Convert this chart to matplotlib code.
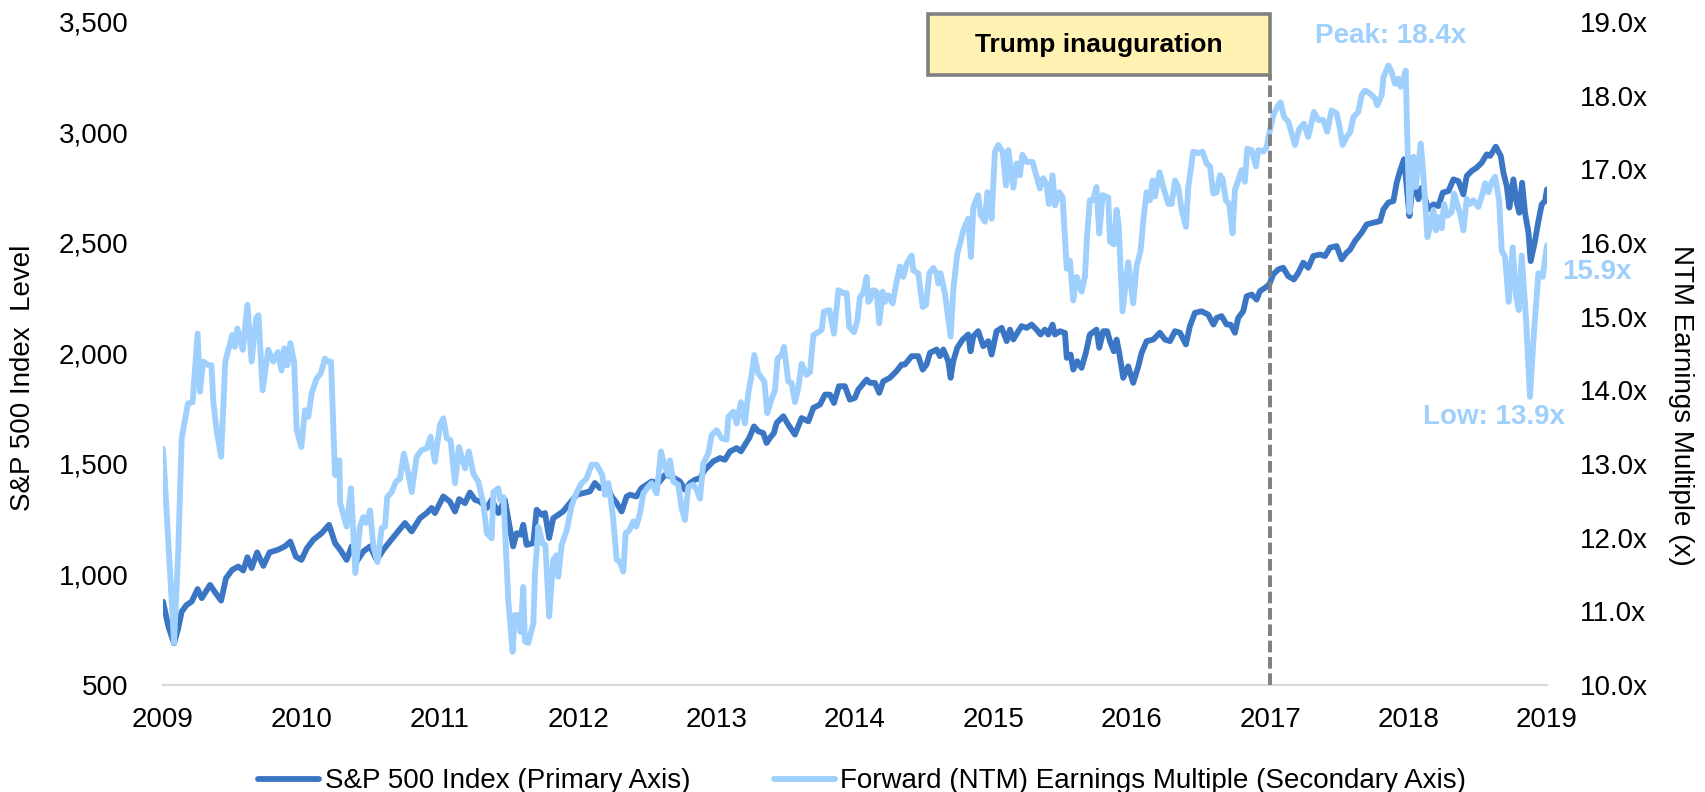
import matplotlib
matplotlib.use('Agg')
import matplotlib.pyplot as plt
import matplotlib.transforms as mtransforms
from matplotlib.patches import Rectangle
from matplotlib.ticker import FuncFormatter

# ---- data (x = position on the 2009..2019 axis) ----
sp_t = [
    2009.0, 2009.039, 2009.08, 2009.11, 2009.135, 2009.17, 2009.207, 2009.25, 2009.28, 2009.34, 2009.38, 2009.42, 2009.455, 2009.50, 2009.544, 2009.58, 2009.61, 2009.64, 2009.68, 2009.725, 2009.77, 2009.83, 2009.88, 2009.92, 2009.96,
    2010.0, 2010.04, 2010.086, 2010.146, 2010.20, 2010.243, 2010.28, 2010.327, 2010.363, 2010.40, 2010.447, 2010.496, 2010.544, 2010.592, 2010.64, 2010.688, 2010.748, 2010.797, 2010.857, 2010.905, 2010.941, 2010.965,
    2011.025, 2011.073, 2011.11, 2011.14, 2011.182, 2011.218, 2011.254, 2011.29, 2011.34, 2011.375, 2011.423, 2011.47, 2011.53, 2011.555, 2011.584, 2011.603, 2011.627, 2011.675, 2011.70, 2011.736, 2011.76, 2011.79, 2011.82, 2011.856, 2011.89, 2011.94, 2011.99,
    2012.04, 2012.085, 2012.12, 2012.157, 2012.206, 2012.242, 2012.278, 2012.314, 2012.35, 2012.374, 2012.42, 2012.458, 2012.53, 2012.58, 2012.627, 2012.675, 2012.735, 2012.771, 2012.808, 2012.844, 2012.88, 2012.916, 2012.976,
    2013.024, 2013.06, 2013.097, 2013.145, 2013.176, 2013.205, 2013.236, 2013.27, 2013.301, 2013.337, 2013.361, 2013.385, 2013.414, 2013.434, 2013.482, 2013.518, 2013.566, 2013.614, 2013.663, 2013.699, 2013.747, 2013.783, 2013.819, 2013.848, 2013.884, 2013.927, 2013.963, 2013.999,
    2014.024, 2014.084, 2014.108, 2014.144, 2014.175, 2014.204, 2014.252, 2014.3, 2014.337, 2014.36, 2014.409, 2014.457, 2014.489, 2014.517, 2014.542, 2014.59, 2014.614, 2014.638, 2014.674, 2014.691, 2014.71, 2014.739, 2014.778, 2014.818, 2014.835, 2014.855, 2014.89, 2014.927, 2014.963, 2014.987,
    2015.023, 2015.06, 2015.096, 2015.12, 2015.144, 2015.18, 2015.204, 2015.24, 2015.276, 2015.312, 2015.341, 2015.372, 2015.397, 2015.427, 2015.445, 2015.48, 2015.517, 2015.53, 2015.558, 2015.577, 2015.606, 2015.637, 2015.668, 2015.697, 2015.745, 2015.765, 2015.794, 2015.822, 2015.842, 2015.87, 2015.89, 2015.91, 2015.938, 2015.974,
    2016.01, 2016.047, 2016.071, 2016.107, 2016.155, 2016.203, 2016.24, 2016.276, 2016.312, 2016.348, 2016.391, 2016.42, 2016.456, 2016.504, 2016.552, 2016.59, 2016.613, 2016.649, 2016.685, 2016.714, 2016.745, 2016.769, 2016.805, 2016.83, 2016.866, 2016.902, 2016.926, 2016.962, 2016.993,
    2017.022, 2017.058, 2017.094, 2017.13, 2017.171, 2017.203, 2017.239, 2017.275, 2017.311, 2017.36, 2017.396, 2017.432, 2017.48, 2017.516, 2017.552, 2017.577, 2017.613, 2017.661, 2017.697, 2017.746, 2017.794, 2017.818, 2017.854, 2017.89, 2017.914, 2017.938, 2017.967, 2017.986,
    2018.006, 2018.023, 2018.047, 2018.071, 2018.095, 2018.143, 2018.179, 2018.215, 2018.247, 2018.288, 2018.324, 2018.36, 2018.396, 2018.42, 2018.456, 2018.492, 2018.528, 2018.564, 2018.589, 2018.63, 2018.666, 2018.685, 2018.709, 2018.728, 2018.757, 2018.781, 2018.8, 2018.82, 2018.841, 2018.866, 2018.882, 2018.913, 2018.938, 2018.962, 2018.986, 2019.0,
]
sp_v = [
    877, 764, 689, 757, 832, 862, 877, 934, 893, 953, 916, 882, 983, 1021, 1036, 1018, 1078, 1029, 1100, 1039, 1100, 1112, 1127, 1149, 1081,
    1066, 1119, 1157, 1187, 1225, 1142, 1112, 1066, 1127, 1059, 1104, 1127, 1066, 1112, 1150, 1187, 1233, 1195, 1255, 1278, 1301, 1278,
    1353, 1330, 1285, 1341, 1323, 1371, 1338, 1330, 1301, 1338, 1278, 1338, 1127, 1187, 1180, 1225, 1134, 1142, 1293, 1270, 1278, 1165, 1255, 1270, 1285, 1323, 1361,
    1369, 1376, 1414, 1391, 1406, 1353, 1323, 1285, 1353, 1361, 1353, 1391, 1421, 1414, 1451, 1444, 1421, 1384, 1414, 1429, 1436, 1474, 1512,
    1527, 1519, 1557, 1572, 1557, 1587, 1618, 1670, 1648, 1640, 1595, 1618, 1640, 1686, 1716, 1678, 1633, 1708, 1693, 1754, 1769, 1814, 1814, 1776, 1852, 1852, 1791, 1799,
    1837, 1882, 1867, 1867, 1822, 1874, 1890, 1920, 1950, 1950, 1988, 1988, 1927, 1950, 2003, 2018, 1988, 2018, 1965, 1890, 1965, 2026, 2063, 2086, 2010, 2078, 2101, 2033, 2056, 1995,
    2101, 2116, 2056, 2108, 2063, 2101, 2124, 2116, 2131, 2108, 2086, 2108, 2086, 2131, 2086, 2101, 2093, 1980, 1995, 1927, 1965, 1935, 2003, 2086, 2108, 2026, 2101, 2101, 2056, 2010, 2063, 2000, 1890, 1942,
    1867, 1942, 2003, 2056, 2063, 2094, 2063, 2056, 2101, 2094, 2041, 2124, 2184, 2191, 2176, 2131, 2161, 2169, 2131, 2131, 2094, 2161, 2191, 2259, 2267, 2244, 2282, 2297, 2312,
    2358, 2380, 2388, 2350, 2335, 2365, 2411, 2388, 2441, 2448, 2441, 2479, 2486, 2426, 2456, 2470, 2509, 2547, 2584, 2592, 2599, 2652, 2683, 2690, 2773, 2826, 2879, 2758,
    2622, 2728, 2750, 2698, 2750, 2652, 2675, 2667, 2728, 2735, 2788, 2780, 2720, 2803, 2826, 2841, 2863, 2901, 2894, 2936, 2894, 2818, 2758, 2660, 2788, 2683, 2637, 2773, 2637, 2547, 2418, 2509, 2599, 2675, 2690, 2743,
]

pe_t = [
    2009.0, 2009.04, 2009.08, 2009.11, 2009.135, 2009.18, 2009.214, 2009.25, 2009.267, 2009.29, 2009.33, 2009.35, 2009.364, 2009.39, 2009.42, 2009.45, 2009.50, 2009.52, 2009.537, 2009.576, 2009.61, 2009.64, 2009.673, 2009.69, 2009.72, 2009.76, 2009.797, 2009.83, 2009.857, 2009.877, 2009.898, 2009.92, 2009.947, 2009.966,
    2010.0, 2010.026, 2010.05, 2010.074, 2010.11, 2010.14, 2010.17, 2010.19, 2010.214, 2010.243, 2010.274, 2010.28, 2010.327, 2010.358, 2010.39, 2010.423, 2010.447, 2010.47, 2010.496, 2010.52, 2010.55, 2010.58, 2010.604, 2010.62, 2010.652, 2010.683, 2010.712, 2010.74, 2010.772, 2010.797, 2010.833, 2010.869, 2010.905, 2010.934, 2010.965,
    2011.001, 2011.025, 2011.05, 2011.078, 2011.11, 2011.138, 2011.182, 2011.21, 2011.242, 2011.278, 2011.314, 2011.34, 2011.375, 2011.387, 2011.423, 2011.435, 2011.46, 2011.495, 2011.526, 2011.543, 2011.567, 2011.584, 2011.603, 2011.615, 2011.64, 2011.676, 2011.688, 2011.712, 2011.743, 2011.763, 2011.79, 2011.82, 2011.844, 2011.856, 2011.88, 2011.917, 2011.953, 2011.99,
    2012.025, 2012.06, 2012.097, 2012.133, 2012.174, 2012.193, 2012.218, 2012.249, 2012.278, 2012.302, 2012.326, 2012.343, 2012.37, 2012.398, 2012.42, 2012.446, 2012.47, 2012.506, 2012.53, 2012.567, 2012.598, 2012.627, 2012.651, 2012.663, 2012.687, 2012.723, 2012.747, 2012.771, 2012.795, 2012.832, 2012.856, 2012.88, 2012.904, 2012.94, 2012.964,
    2013.0, 2013.036, 2013.072, 2013.085, 2013.12, 2013.145, 2013.176, 2013.205, 2013.229, 2013.253, 2013.272, 2013.301, 2013.325, 2013.345, 2013.366, 2013.398, 2013.422, 2013.44, 2013.47, 2013.487, 2013.518, 2013.542, 2013.566, 2013.59, 2013.614, 2013.65, 2013.675, 2013.699, 2013.735, 2013.759, 2013.776, 2013.815, 2013.848, 2013.88, 2013.915, 2013.94, 2013.958, 2013.993,
    2014.017, 2014.036, 2014.06, 2014.084, 2014.096, 2014.108, 2014.132, 2014.156, 2014.175, 2014.2, 2014.216, 2014.24, 2014.272, 2014.3, 2014.325, 2014.349, 2014.373, 2014.409, 2014.421, 2014.457, 2014.489, 2014.513, 2014.537, 2014.566, 2014.59, 2014.602, 2014.618, 2014.65, 2014.669, 2014.691, 2014.71, 2014.739, 2014.763, 2014.782, 2014.818, 2014.838, 2014.855, 2014.89, 2014.908, 2014.939, 2014.956, 2014.987,
    2015.011, 2015.035, 2015.067, 2015.091, 2015.108, 2015.144, 2015.168, 2015.192, 2015.209, 2015.24, 2015.283, 2015.312, 2015.336, 2015.36, 2015.385, 2015.401, 2015.427, 2015.445, 2015.476, 2015.5, 2015.53, 2015.553, 2015.577, 2015.602, 2015.637, 2015.661, 2015.678, 2015.697, 2015.72, 2015.745, 2015.765, 2015.789, 2015.83, 2015.842, 2015.87, 2015.89, 2015.905, 2015.933, 2015.974,
    2016.01, 2016.035, 2016.064, 2016.083, 2016.107, 2016.131, 2016.15, 2016.167, 2016.2, 2016.227, 2016.264, 2016.288, 2016.312, 2016.336, 2016.36, 2016.391, 2016.408, 2016.444, 2016.48, 2016.511, 2016.54, 2016.565, 2016.589, 2016.613, 2016.637, 2016.656, 2016.68, 2016.704, 2016.728, 2016.745, 2016.769, 2016.793, 2016.817, 2016.834, 2016.866, 2016.897, 2016.914, 2016.95, 2016.974, 2016.998,
    2017.022, 2017.051, 2017.075, 2017.1, 2017.13, 2017.155, 2017.179, 2017.21, 2017.244, 2017.275, 2017.316, 2017.347, 2017.383, 2017.412, 2017.443, 2017.48, 2017.499, 2017.523, 2017.552, 2017.577, 2017.601, 2017.637, 2017.661, 2017.685, 2017.721, 2017.758, 2017.774, 2017.806, 2017.818, 2017.854, 2017.878, 2017.902, 2017.926, 2017.943, 2017.962, 2017.979, 2017.991,
    2018.006, 2018.023, 2018.035, 2018.051, 2018.071, 2018.088, 2018.107, 2018.136, 2018.16, 2018.179, 2018.198, 2018.215, 2018.24, 2018.256, 2018.28, 2018.312, 2018.329, 2018.353, 2018.372, 2018.396, 2018.42, 2018.444, 2018.468, 2018.504, 2018.528, 2018.553, 2018.577, 2018.601, 2018.625, 2018.654, 2018.673, 2018.697, 2018.723, 2018.752, 2018.776, 2018.796, 2018.817, 2018.849, 2018.877, 2018.902, 2018.938, 2018.969, 2018.986, 2019.0,
]
pe_v = [
    13.21, 11.88, 10.57, 11.81, 13.35, 13.82, 13.84, 14.77, 13.98, 14.39, 14.34, 14.34, 13.84, 13.42, 13.10, 14.39, 14.75, 14.59, 14.84, 14.55, 15.16, 14.39, 14.98, 15.02, 14.00, 14.55, 14.39, 14.52, 14.27, 14.57, 14.34, 14.64, 14.39, 13.46,
    13.23, 13.73, 13.64, 13.96, 14.16, 14.23, 14.43, 14.39, 14.39, 12.85, 13.05, 12.47, 12.15, 12.67, 11.52, 12.15, 12.28, 12.20, 12.37, 11.88, 11.67, 12.13, 12.15, 12.55, 12.62, 12.76, 12.80, 13.14, 12.87, 12.62, 13.10, 13.19, 13.21, 13.37, 13.03,
    13.53, 13.62, 13.35, 13.32, 12.74, 13.23, 12.94, 13.17, 12.87, 12.76, 12.47, 12.06, 11.99, 12.62, 12.67, 12.51, 12.55, 11.15, 10.45, 10.95, 10.95, 10.72, 11.33, 10.59, 10.57, 10.84, 11.52, 12.15, 11.92, 11.90, 10.93, 11.70, 11.76, 11.47, 11.90, 12.10, 12.44, 12.62,
    12.74, 12.80, 12.99, 12.99, 12.85, 12.58, 12.74, 12.33, 11.70, 11.67, 11.54, 12.06, 12.10, 12.22, 12.15, 12.33, 12.60, 12.69, 12.74, 12.60, 13.17, 12.96, 12.85, 13.05, 12.76, 12.72, 12.40, 12.24, 12.69, 12.72, 12.65, 12.53, 13.01, 13.14, 13.39,
    13.46, 13.35, 13.33, 13.64, 13.71, 13.55, 13.84, 13.55, 13.96, 14.21, 14.48, 14.23, 14.17, 14.12, 13.69, 13.89, 14.00, 14.43, 14.48, 14.59, 14.12, 14.10, 13.84, 14.03, 14.36, 14.21, 14.25, 14.75, 14.79, 14.82, 15.07, 15.09, 14.77, 15.36, 15.32, 15.32, 14.86, 14.79,
    14.95, 15.27, 15.32, 15.54, 15.20, 15.22, 15.36, 15.34, 14.91, 15.34, 15.20, 15.29, 15.18, 15.47, 15.68, 15.54, 15.72, 15.83, 15.63, 15.59, 15.13, 15.16, 15.59, 15.66, 15.59, 15.45, 15.59, 15.31, 15.04, 14.73, 15.36, 15.86, 16.02, 16.17, 16.33, 15.81, 16.49, 16.65, 16.38, 16.29, 16.69, 16.33,
    17.24, 17.33, 17.24, 16.78, 17.26, 16.75, 17.08, 16.92, 17.20, 17.10, 17.10, 16.90, 16.74, 16.88, 16.79, 16.53, 16.92, 16.51, 16.69, 16.62, 15.65, 15.76, 15.22, 15.54, 15.34, 15.54, 16.13, 16.58, 16.58, 16.76, 16.13, 16.65, 16.62, 16.02, 15.98, 16.45, 16.25, 15.07, 15.74,
    15.18, 15.69, 15.90, 16.31, 16.69, 16.58, 16.85, 16.63, 16.96, 16.76, 16.53, 16.53, 16.85, 16.76, 16.45, 16.22, 16.76, 17.24, 17.22, 17.24, 17.08, 17.04, 16.67, 16.69, 16.92, 16.87, 16.58, 16.53, 16.13, 16.72, 16.85, 16.99, 16.83, 17.28, 17.26, 17.04, 17.26, 17.24, 17.30, 17.53,
    17.73, 17.85, 17.91, 17.71, 17.65, 17.49, 17.33, 17.55, 17.62, 17.44, 17.78, 17.67, 17.67, 17.51, 17.80, 17.76, 17.60, 17.33, 17.44, 17.50, 17.71, 17.78, 18.01, 18.07, 18.03, 17.96, 17.87, 18.01, 18.25, 18.41, 18.32, 18.16, 18.23, 18.12, 18.21, 18.34, 17.39,
    16.42, 16.85, 17.17, 16.76, 17.08, 17.35, 16.92, 16.08, 16.26, 16.45, 16.17, 16.35, 16.20, 16.53, 16.37, 16.42, 16.67, 16.51, 16.40, 16.17, 16.60, 16.53, 16.58, 16.49, 16.63, 16.81, 16.69, 16.83, 16.90, 16.58, 15.90, 15.81, 15.20, 15.94, 15.29, 15.09, 15.83, 14.95, 13.91, 14.68, 15.59, 15.54, 15.77, 15.97,
]

year_ticks = list(range(2009, 2020))
sp_ticks = list(range(500, 3501, 500))
pe_ticks = list(range(10, 20))

assert len(sp_t) == len(sp_v) and len(pe_t) == len(pe_v)

# ---- style ----
DARK = '#3b76c5'
LIGHT = '#9ecffd'
plt.rcParams.update({
    'font.family': ['Liberation Sans', 'DejaVu Sans'],
    'font.size': 20,
    'text.color': 'black',
})

W, H = 1705, 792
fig = plt.figure(figsize=(W / 100, H / 100), dpi=100)
ax = fig.add_axes([163 / W, 107 / H, 1384 / W, 663 / H])
ax2 = ax.twinx()

line_sp, = ax.plot(sp_t, sp_v, color=DARK, lw=4.2, solid_joinstyle='round',
                   solid_capstyle='round', label='S&P 500 Index (Primary Axis)')
line_pe, = ax2.plot(pe_t, pe_v, color=LIGHT, lw=4.2, solid_joinstyle='round',
                    solid_capstyle='round',
                    label='Forward (NTM) Earnings Multiple (Secondary Axis)')

ax.set_xlim(2009, 2019)
ax.set_ylim(500, 3500)
ax2.set_ylim(10, 19)
ax.set_xticks(year_ticks)
ax.set_yticks(sp_ticks)
ax2.set_yticks(pe_ticks)
ax.yaxis.set_major_formatter(FuncFormatter(lambda v, p: f'{int(v):,}'))
ax2.yaxis.set_major_formatter(FuncFormatter(lambda v, p: f'{v:.1f}x'))

for a in (ax, ax2):
    for s in a.spines.values():
        s.set_visible(False)
ax.spines['bottom'].set_visible(True)
ax.spines['bottom'].set_color('#d9d9d9')
ax.spines['bottom'].set_linewidth(1.6)
ax.tick_params(axis='x', length=0, pad=16, labelsize=20)
ax.tick_params(axis='y', length=0, pad=25, labelsize=20)
ax2.tick_params(axis='y', length=0, pad=24, labelsize=20)

# inauguration marker
ax2.axvline(2017, ymin=0, ymax=0.92, color='#7f7f7f', lw=2.8,
            ls=(0, (3.0, 1.2)), zorder=5)
blend = mtransforms.blended_transform_factory(ax2.transData, ax2.transAxes)
box = Rectangle((2014.53, 0.92), 2017 - 2014.53, 0.092, transform=blend,
                facecolor='#fff2b2', edgecolor='#808080', lw=2.6,
                clip_on=False, zorder=6)
ax2.add_patch(box)
ax2.text((2014.53 + 2017) / 2, 0.966, 'Trump inauguration', transform=blend,
         ha='center', va='center', fontsize=19, fontweight='bold', zorder=7)

# annotations
ax2.text(2017.324, 18.81, 'Peak: 18.4x', color=LIGHT, fontsize=20,
         fontweight='bold', ha='left', va='center')
ax2.text(2019.108, 15.60, '15.9x', color=LIGHT, fontsize=20,
         fontweight='bold', ha='left', va='center')
ax2.text(2018.104, 13.64, 'Low: 13.9x', color=LIGHT, fontsize=20,
         fontweight='bold', ha='left', va='center')

# axis titles
fig.text(23 / W, 1 - 378 / H, 'S&P 500 Index  Level', rotation=90,
         ha='center', va='center', fontsize=20)
fig.text(1681 / W, 1 - 405 / H, 'NTM Earnings Multiple (x)', rotation=270,
         ha='center', va='center', fontsize=20)

fig.legend(handles=[line_sp, line_pe], loc='center',
           bbox_to_anchor=(0.5057, 0.0136), ncol=2, frameon=False, fontsize=20,
           handlelength=2.2, handletextpad=0.2, columnspacing=3.0,
           borderpad=0, borderaxespad=0)

fig.savefig('out.png', dpi=100)
